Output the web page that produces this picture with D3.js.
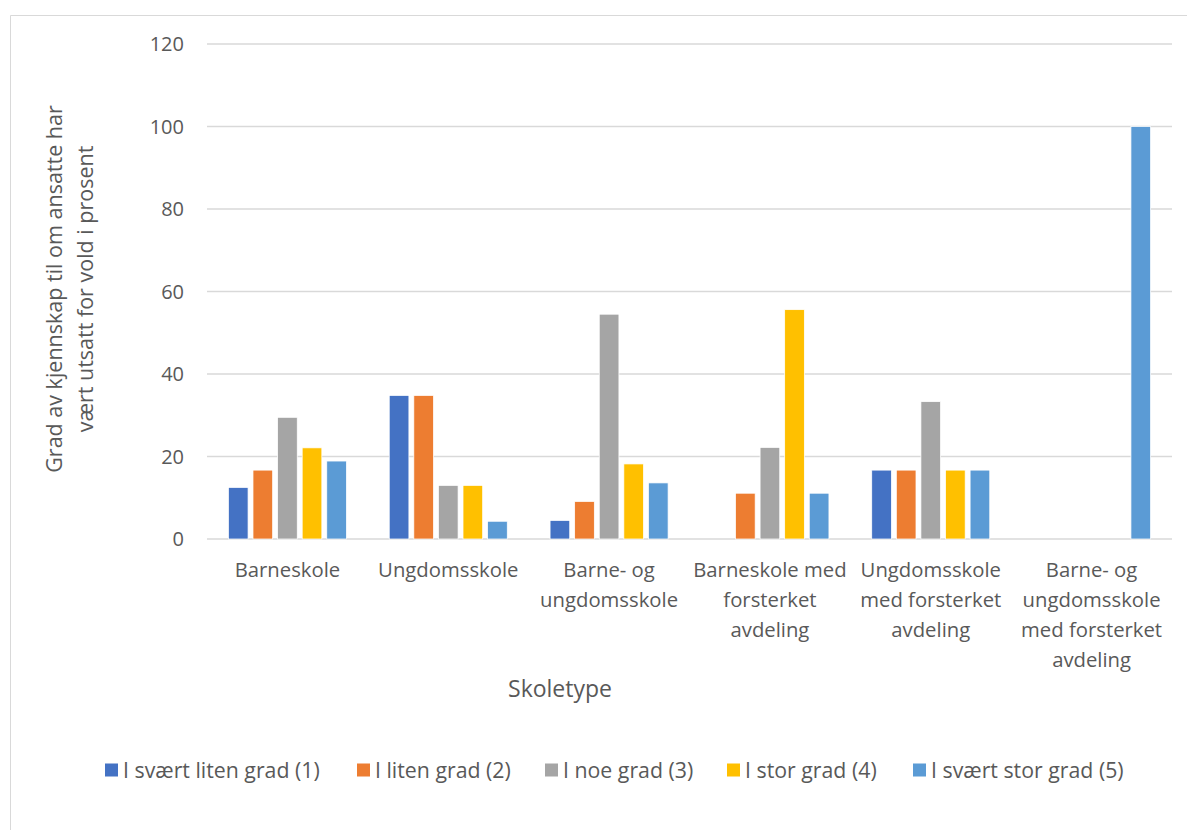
<!DOCTYPE html>
<html>
<head>
<meta charset="utf-8">
<script src="https://cdn.jsdelivr.net/npm/d3@7"></script>
<style>
  body { margin: 0; background: #fff; }
  svg { display: block; font-family: "Open Sans", sans-serif; }
  .gridline { stroke: #d9d9d9; stroke-width: 1.5; }
  .tick-label, .cat-label, .axis-title, .legend-label { fill: #595959; }
</style>
</head>
<body>
<div id="chart"></div>
<script>
// Skoletype vs. grad av kjennskap (prosent), one series per answer level.
const categories = [
  ["Barneskole"],
  ["Ungdomsskole"],
  ["Barne- og", "ungdomsskole"],
  ["Barneskole med", "forsterket", "avdeling"],
  ["Ungdomsskole", "med forsterket", "avdeling"],
  ["Barne- og", "ungdomsskole", "med forsterket", "avdeling"]
];
const seriesNames = [
  "I svært liten grad (1)",
  "I liten grad (2)",
  "I noe grad (3)",
  "I stor grad (4)",
  "I svært stor grad (5)"
];
const seriesColors = ["#4472C4", "#ED7D31", "#A5A5A5", "#FFC000", "#5B9BD5"];
// values[category][series]
const values = [
  [12.5, 16.7, 29.5, 22.1, 18.9],
  [34.8, 34.8, 13.0, 13.0, 4.3],
  [4.5, 9.1, 54.5, 18.2, 13.6],
  [0, 11.1, 22.2, 55.6, 11.1],
  [16.7, 16.7, 33.3, 16.7, 16.7],
  [0, 0, 0, 0, 100]
];
const yTicks = [0, 20, 40, 60, 80, 100, 120];

const W = 1187, H = 830;
const plot = { left: 207, right: 1172, top: 44, bottom: 539 };

const svg = d3.select("#chart").append("svg").attr("width", W).attr("height", H);

// chart frame (only left and top edges are visible in the crop)
svg.append("path").attr("d", `M10.5,${H} V15.5 H${W}`)
  .attr("fill", "none").attr("stroke", "#d9d9d9").attr("stroke-width", 1);

const y = d3.scaleLinear([0, 120], [plot.bottom, plot.top]);
const catKeys = categories.map((c, i) => i);
const x0 = d3.scaleBand(catKeys, [plot.left, plot.right]);
const x1 = d3.scaleBand(d3.range(seriesNames.length), [0, x0.bandwidth()])
  .paddingInner(0.2).paddingOuter(0.87);

const g = svg.append("g");

g.selectAll("line.gridline").data(yTicks).join("line").attr("class", "gridline")
  .attr("x1", plot.left).attr("x2", plot.right)
  .attr("y1", (d) => y(d)).attr("y2", (d) => y(d));

g.selectAll("text.tick-label").data(yTicks).join("text").attr("class", "tick-label")
  .attr("x", 184).attr("y", (d) => y(d)).attr("dy", "0.36em")
  .attr("text-anchor", "end").style("font-size", "20px").text((d) => d);

const groups = g.selectAll("g.cat").data(values).join("g").attr("class", "cat")
  .attr("transform", (d, i) => `translate(${x0(i)},0)`);
groups.selectAll("rect").data((d) => d.map((v, s) => ({ v, s }))).join("rect")
  .filter((d) => d.v > 0)
  .attr("x", (d) => x1(d.s)).attr("width", x1.bandwidth())
  .attr("y", (d) => y(d.v)).attr("height", (d) => y(0) - y(d.v))
  .attr("fill", (d) => seriesColors[d.s])
  .attr("stroke", "#fff").attr("stroke-width", 0.75);

// category labels (pre-wrapped lines)
const catText = g.selectAll("text.cat-label").data(categories).join("text").attr("class", "cat-label")
  .attr("text-anchor", "middle").style("font-size", "20.3px")
  .attr("transform", (d, i) => `translate(${x0(i) + x0.bandwidth() / 2},${plot.bottom + 38})`);
catText.selectAll("tspan").data((d) => d).join("tspan")
  .attr("x", 0).attr("y", (d, i) => i * 30).text((d) => d);

// axis titles
g.append("text").attr("class", "axis-title").attr("text-anchor", "middle")
  .attr("x", 560).attr("y", 697).style("font-size", "23px").text("Skoletype");

const yTitle = g.append("text").attr("class", "axis-title").attr("text-anchor", "middle")
  .attr("transform", "translate(62,289) rotate(-90)").style("font-size", "21.5px");
yTitle.append("tspan").attr("x", 0).attr("y", 0).text("Grad av kjennskap til om ansatte har");
yTitle.append("tspan").attr("x", 0).attr("y", 31).text("vært utsatt for vold i prosent");

// legend
const legendX = [105, 357, 545, 727, 913];
const leg = g.selectAll("g.legend").data(seriesNames).join("g").attr("class", "legend")
  .attr("transform", (d, i) => `translate(${legendX[i]},770)`);
leg.append("rect").attr("x", 0).attr("y", -6.5).attr("width", 13).attr("height", 13)
  .attr("fill", (d, i) => seriesColors[i]);
leg.append("text").attr("class", "legend-label").attr("x", 18).attr("dy", "0.36em")
  .style("font-size", "21.3px").text((d) => d);
</script>
</body>
</html>
